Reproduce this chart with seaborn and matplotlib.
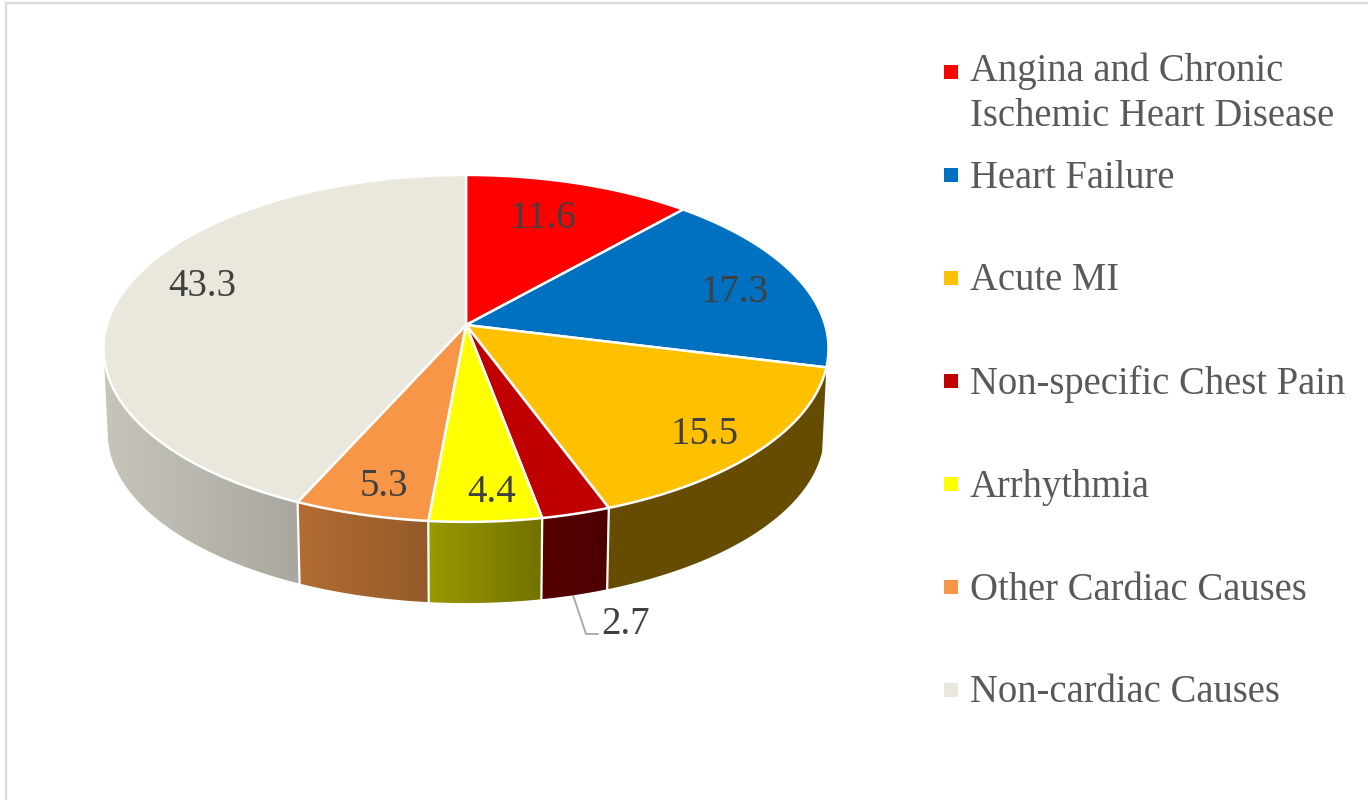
import numpy as np
import matplotlib
matplotlib.use("Agg")
import matplotlib.pyplot as plt
from matplotlib.patches import Polygon, Rectangle
import seaborn as sns

categories = [
    "Angina and Chronic\nIschemic Heart Disease",
    "Heart Failure",
    "Acute MI",
    "Non-specific Chest Pain",
    "Arrhythmia",
    "Other Cardiac Causes",
    "Non-cardiac Causes",
]
values = [11.6, 17.3, 15.5, 2.7, 4.4, 5.3, 43.3]
value_labels = ["11.6", "17.3", "15.5", "2.7", "4.4", "5.3", "43.3"]
hex_colors = ["#FF0000", "#0070C0", "#FFC000", "#C00000", "#FFFF00", "#F79646", "#EAE8DC"]

label_x = [543, 735, 705, 626, 492, 384, 202]
label_y = [218, 292, 434, 624, 493, 487, 287]

# tilted disc, the back of the pie is drawn smaller than the front
CX, CY = 466, 325
TILT = 0.135
TOP_W, TOP_H = 359.2, 170.3
BOTTOM_W, BOTTOM_H, BOTTOM_Y = 355, 167, 410


def rim(theta, w, h, y0):
    u, v = np.sin(theta), np.cos(theta)
    d = 1 + TILT * v
    return CX + w * u / d, y0 - h * v / d


def shade(color, x):
    k = np.interp(x, [105, 300, 430, 540, 610], [0.85, 0.72, 0.6, 0.45, 0.4])
    return np.outer(k, color)


sns.set_theme(style="white")
plt.rcParams["font.family"] = ["Liberation Serif", "DejaVu Serif"]
palette = sns.color_palette(hex_colors)

fig = plt.figure(figsize=(13.68, 8), dpi=100)
ax = fig.add_axes([0, 0, 1, 1])
ax.axis("off")

# frame of the pasted chart
ax.plot([6, 6, 1368], [800, 3, 3], color="#D9D9D9", lw=1.6, solid_joinstyle="miter")

edges = 2 * np.pi * np.cumsum([0] + values) / sum(values)

# side wall, from where the gold slice reaches the right edge round to the left edge
wall_start, wall_end = edges[2], np.deg2rad(262)
for i, color in enumerate(palette):
    start, end = max(edges[i], wall_start), min(edges[i + 1], wall_end)
    if end <= start:
        continue
    t = np.linspace(start, end, 200)
    tx, ty = rim(t, TOP_W, TOP_H, CY)
    bx, by = rim(t, BOTTOM_W, BOTTOM_H, BOTTOM_Y)
    poly = Polygon(np.column_stack([np.r_[tx, bx[::-1]], np.r_[ty, by[::-1]]]), closed=True,
                   facecolor="none", edgecolor="none", transform=ax.transData)
    ax.add_patch(poly)
    xs = np.linspace(poly.get_xy()[:, 0].min(), poly.get_xy()[:, 0].max(), 80)
    grad = shade(color, xs)[np.newaxis, :, :]
    img = ax.imshow(grad, extent=(xs[0], xs[-1], by.max() + 2, ty.min() - 2), aspect="auto",
                    interpolation="bilinear", zorder=2)
    img.set_clip_path(poly)

ax.set_xlim(0, 1368)
ax.set_ylim(800, 0)

# seams between the side wall pieces
for e in edges[3:-1]:
    tx, ty = rim(e, TOP_W, TOP_H, CY)
    bx, by = rim(e, BOTTOM_W, BOTTOM_H, BOTTOM_Y)
    ax.plot([tx, bx], [ty, by], color="white", lw=1.6, zorder=3)

# top face
for i, color in enumerate(palette):
    t = np.linspace(edges[i], edges[i + 1], 200)
    x, y = rim(t, TOP_W, TOP_H, CY)
    pts = np.column_stack([np.r_[CX, x], np.r_[CY, y]])
    ax.add_patch(Polygon(pts, closed=True, facecolor=color, edgecolor="white", lw=1.8,
                         joinstyle="round", zorder=4))

# leader line for the small slice
ax.plot([573, 586, 598], [595, 634, 634], color="#A6A6A6", lw=1.3, zorder=1)

for text, x, y in zip(value_labels, label_x, label_y):
    ax.text(x, y, text, ha="center", va="center", fontsize=28, color="#404040", zorder=5)

# legend is laid out by hand, the first marker sits on the first line of a two line label
LEGEND_TOP, LEGEND_STEP = 72, 103
for i, (name, color) in enumerate(zip(categories, palette)):
    y = LEGEND_TOP + i * LEGEND_STEP
    ax.add_patch(Rectangle((944, y - 7), 14, 14, facecolor=color, edgecolor="none"))
    if "\n" in name:
        ax.text(970, y - 19, name, ha="left", va="top", fontsize=27.8, color="#595959", linespacing=1.25)
    else:
        ax.text(970, y + 3, name, ha="left", va="center", fontsize=27.8, color="#595959")

fig.savefig("out.png", dpi=100)
